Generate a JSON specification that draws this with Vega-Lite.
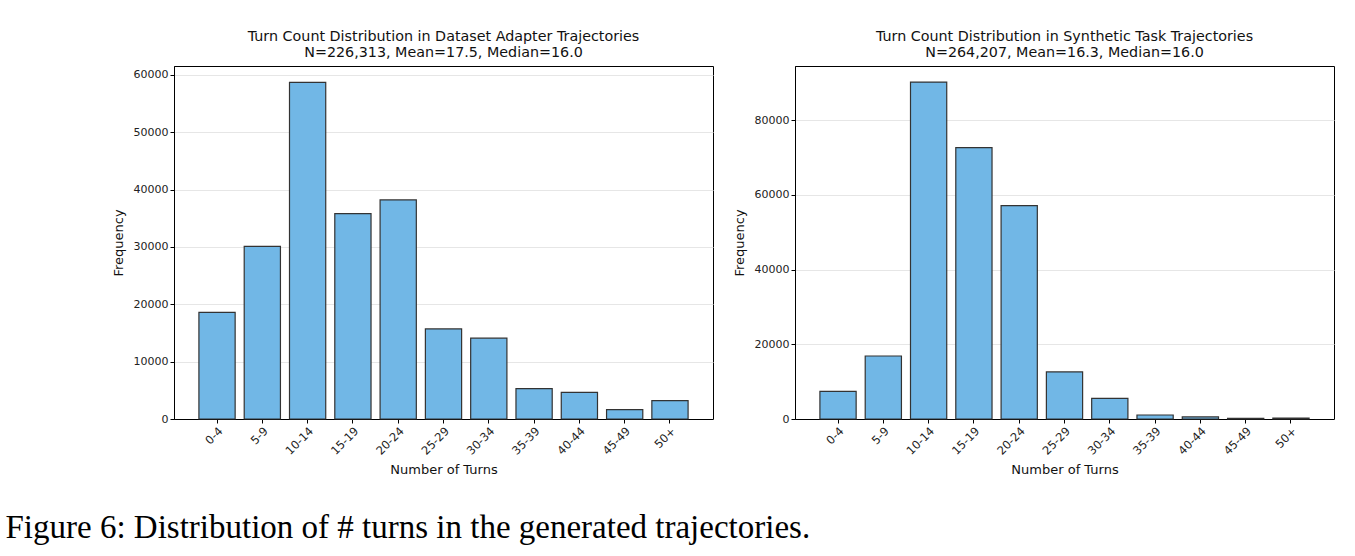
{
  "$schema": "https://vega.github.io/schema/vega-lite/v6.json",
  "padding": {"left": 5, "top": 29, "right": 5, "bottom": 0},
  "background": "white",
  "title": {
    "text": "Figure 6: Distribution of # turns in the generated trajectories.",
    "orient": "bottom",
    "anchor": "start",
    "font": "Liberation Serif",
    "fontSize": 33,
    "fontWeight": "normal",
    "color": "#000000",
    "dx": -106,
    "offset": 35
  },
  "datasets": {
    "adapter": [
      {"bin": "0-4", "count": 18600},
      {"bin": "5-9", "count": 30100},
      {"bin": "10-14", "count": 58700},
      {"bin": "15-19", "count": 35800},
      {"bin": "20-24", "count": 38200},
      {"bin": "25-29", "count": 15700},
      {"bin": "30-34", "count": 14100},
      {"bin": "35-39", "count": 5300},
      {"bin": "40-44", "count": 4650},
      {"bin": "45-49", "count": 1650},
      {"bin": "50+", "count": 3200}
    ],
    "synthetic": [
      {"bin": "0-4", "count": 7400},
      {"bin": "5-9", "count": 16850},
      {"bin": "10-14", "count": 90150},
      {"bin": "15-19", "count": 72600},
      {"bin": "20-24", "count": 57100},
      {"bin": "25-29", "count": 12600},
      {"bin": "30-34", "count": 5500},
      {"bin": "35-39", "count": 1070},
      {"bin": "40-44", "count": 550},
      {"bin": "45-49", "count": 190},
      {"bin": "50+", "count": 250}
    ]
  },
  "spacing": 18,
  "hconcat": [
    {
      "width": 539,
      "height": 353,
      "title": {"text": ["Turn Count Distribution in Dataset Adapter Trajectories", "N=226,313, Mean=17.5, Median=16.0"]},
      "data": {"name": "adapter"},
      "mark": {"type": "bar", "fill": "#71b7e6", "stroke": "#333333", "strokeWidth": 1.2},
      "encoding": {
        "x": {"field": "bin", "type": "ordinal", "sort": null, "title": "Number of Turns",
              "scale": {"paddingInner": 0.2, "paddingOuter": 0.55}},
        "y": {"field": "count", "type": "quantitative", "title": "Frequency",
              "scale": {"domain": [0, 61550], "nice": false},
              "axis": {"values": [0, 10000, 20000, 30000, 40000, 50000, 60000], "format": "d"}}
      }
    },
    {
      "width": 539,
      "height": 353,
      "title": {"text": ["Turn Count Distribution in Synthetic Task Trajectories", "N=264,207, Mean=16.3, Median=16.0"]},
      "data": {"name": "synthetic"},
      "mark": {"type": "bar", "fill": "#71b7e6", "stroke": "#333333", "strokeWidth": 1.2},
      "encoding": {
        "x": {"field": "bin", "type": "ordinal", "sort": null, "title": "Number of Turns",
              "scale": {"paddingInner": 0.2, "paddingOuter": 0.55}},
        "y": {"field": "count", "type": "quantitative", "title": "Frequency",
              "scale": {"domain": [0, 94450], "nice": false},
              "axis": {"values": [0, 20000, 40000, 60000, 80000], "format": "d"}}
      }
    }
  ],
  "config": {
    "font": "DejaVu Sans",
    "view": {"stroke": "#000000", "strokeWidth": 1},
    "title": {"font": "DejaVu Sans", "fontSize": 14.3, "fontWeight": "normal", "color": "#111111", "lineHeight": 16, "offset": 6},
    "axis": {
      "labelFont": "DejaVu Sans", "labelFontSize": 11, "labelColor": "#222222",
      "titleFont": "DejaVu Sans", "titleFontSize": 13, "titleFontWeight": "normal", "titleColor": "#111111",
      "domainColor": "#000000", "tickColor": "#000000", "tickSize": 4,
      "gridColor": "#e6e6e6", "labelFlush": false, "labelOverlap": false
    },
    "axisX": {"grid": false, "labelAngle": -45, "labelFontSize": 11.5, "titlePadding": 7},
    "axisY": {"grid": true, "titlePadding": 8}
  }
}
